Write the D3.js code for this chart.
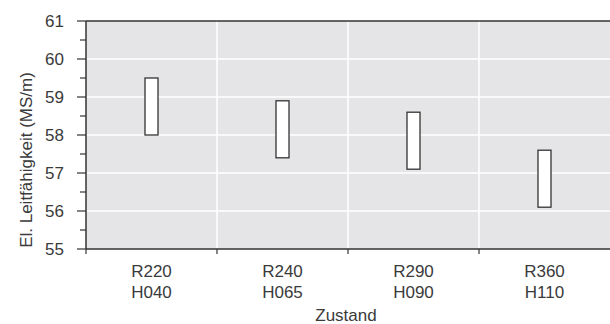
<!DOCTYPE html>
<html>
<head>
<meta charset="utf-8">
<script src="https://cdn.jsdelivr.net/npm/d3@7"></script>
<style>
  body { margin: 0; background: #fff; }
  text { font-family: "Liberation Sans", Arial, sans-serif; fill: #3a3a3a; }
</style>
</head>
<body>
<svg id="chart" width="610" height="324"></svg>
<script>
const zustand = [["R220", "H040"], ["R240", "H065"], ["R290", "H090"], ["R360", "H110"]];
const lower = [58.0, 57.4, 57.1, 56.1];
const upper = [59.5, 58.9, 58.6, 57.6];
const yTicks = [55, 56, 57, 58, 59, 60, 61];
const yMinor = [55.5, 56.5, 57.5, 58.5, 59.5, 60.5];

const svg = d3.select("#chart");
const margin = {left: 86, right: 0, top: 21, bottom: 75};
const w = 610 - margin.left - margin.right;
const h = 324 - margin.top - margin.bottom;
const fs = "17px";

const x = d3.scaleBand()
    .domain(zustand.map(d => d.join(" ")))
    .range([0, w]);
const y = d3.scaleLinear().domain([55, 61]).range([h, 0]);

const g = svg.append("g").attr("transform", "translate(" + margin.left + "," + margin.top + ")");

// background
g.append("rect").attr("width", w).attr("height", h).attr("fill", "#e5e5e7");

// grid
g.selectAll(".hgrid").data(yTicks.slice(1, -1)).enter().append("line")
    .attr("x1", 0).attr("x2", w)
    .attr("y1", d => y(d)).attr("y2", d => y(d))
    .attr("stroke", "#fff").attr("stroke-width", 1.5);
g.selectAll(".vgrid").data(x.domain().slice(1)).enter().append("line")
    .attr("x1", d => x(d)).attr("x2", d => x(d))
    .attr("y1", 0).attr("y2", h)
    .attr("stroke", "#fff").attr("stroke-width", 1.5);

// boxes
const bw = 13;
g.selectAll(".box").data(zustand).enter().append("rect")
    .attr("x", (d, i) => x(d.join(" ")) + x.bandwidth() / 2 - bw / 2)
    .attr("y", (d, i) => y(upper[i]))
    .attr("width", bw)
    .attr("height", (d, i) => y(lower[i]) - y(upper[i]))
    .attr("fill", "#fff").attr("stroke", "#333").attr("stroke-width", 1.3);

// top border
g.append("line").attr("x1", 0).attr("x2", w).attr("y1", 0).attr("y2", 0)
    .attr("stroke", "#333").attr("stroke-width", 1.5);

// y axis
const yAxis = g.append("g");
yAxis.append("line").attr("x1", 0).attr("x2", 0).attr("y1", 0).attr("y2", h)
    .attr("stroke", "#333").attr("stroke-width", 1.5);
yAxis.selectAll(".maj").data(yTicks).enter().append("line")
    .attr("x1", -9).attr("x2", 0).attr("y1", d => y(d)).attr("y2", d => y(d))
    .attr("stroke", "#333").attr("stroke-width", 1.2);
yAxis.selectAll(".min").data(yMinor).enter().append("line")
    .attr("x1", -6).attr("x2", 0).attr("y1", d => y(d)).attr("y2", d => y(d))
    .attr("stroke", "#333").attr("stroke-width", 1.2);
yAxis.selectAll("text").data(yTicks).enter().append("text")
    .attr("x", -22).attr("y", d => y(d)).attr("dy", "0.36em")
    .attr("text-anchor", "end").style("font-size", fs)
    .text(d => d);

// x axis
const xAxis = g.append("g").attr("transform", "translate(0," + h + ")");
xAxis.append("line").attr("x1", 0).attr("x2", w).attr("stroke", "#333").attr("stroke-width", 1.5);
xAxis.selectAll(".tk").data(x.domain()).enter().append("line")
    .attr("x1", d => x(d)).attr("x2", d => x(d)).attr("y1", 0).attr("y2", 5)
    .attr("stroke", "#333").attr("stroke-width", 1.2);
const lbl = xAxis.selectAll(".lbl").data(zustand).enter().append("text")
    .attr("text-anchor", "middle").style("font-size", fs)
    .attr("transform", d => "translate(" + (x(d.join(" ")) + x.bandwidth() / 2) + ",0)");
lbl.append("tspan").attr("x", 0).attr("y", 28).text(d => d[0]);
lbl.append("tspan").attr("x", 0).attr("y", 49).text(d => d[1]);

// axis titles
svg.append("text").attr("x", margin.left + w / 2 - 2).attr("y", 321)
    .attr("text-anchor", "middle").style("font-size", fs).text("Zustand");
svg.append("text").attr("transform", "translate(32," + (margin.top + h / 2 + 25) + ") rotate(-90)")
    .attr("text-anchor", "middle").style("font-size", fs)
    .text("El. Leitfähigkeit (MS/m)");
</script>
</body>
</html>
